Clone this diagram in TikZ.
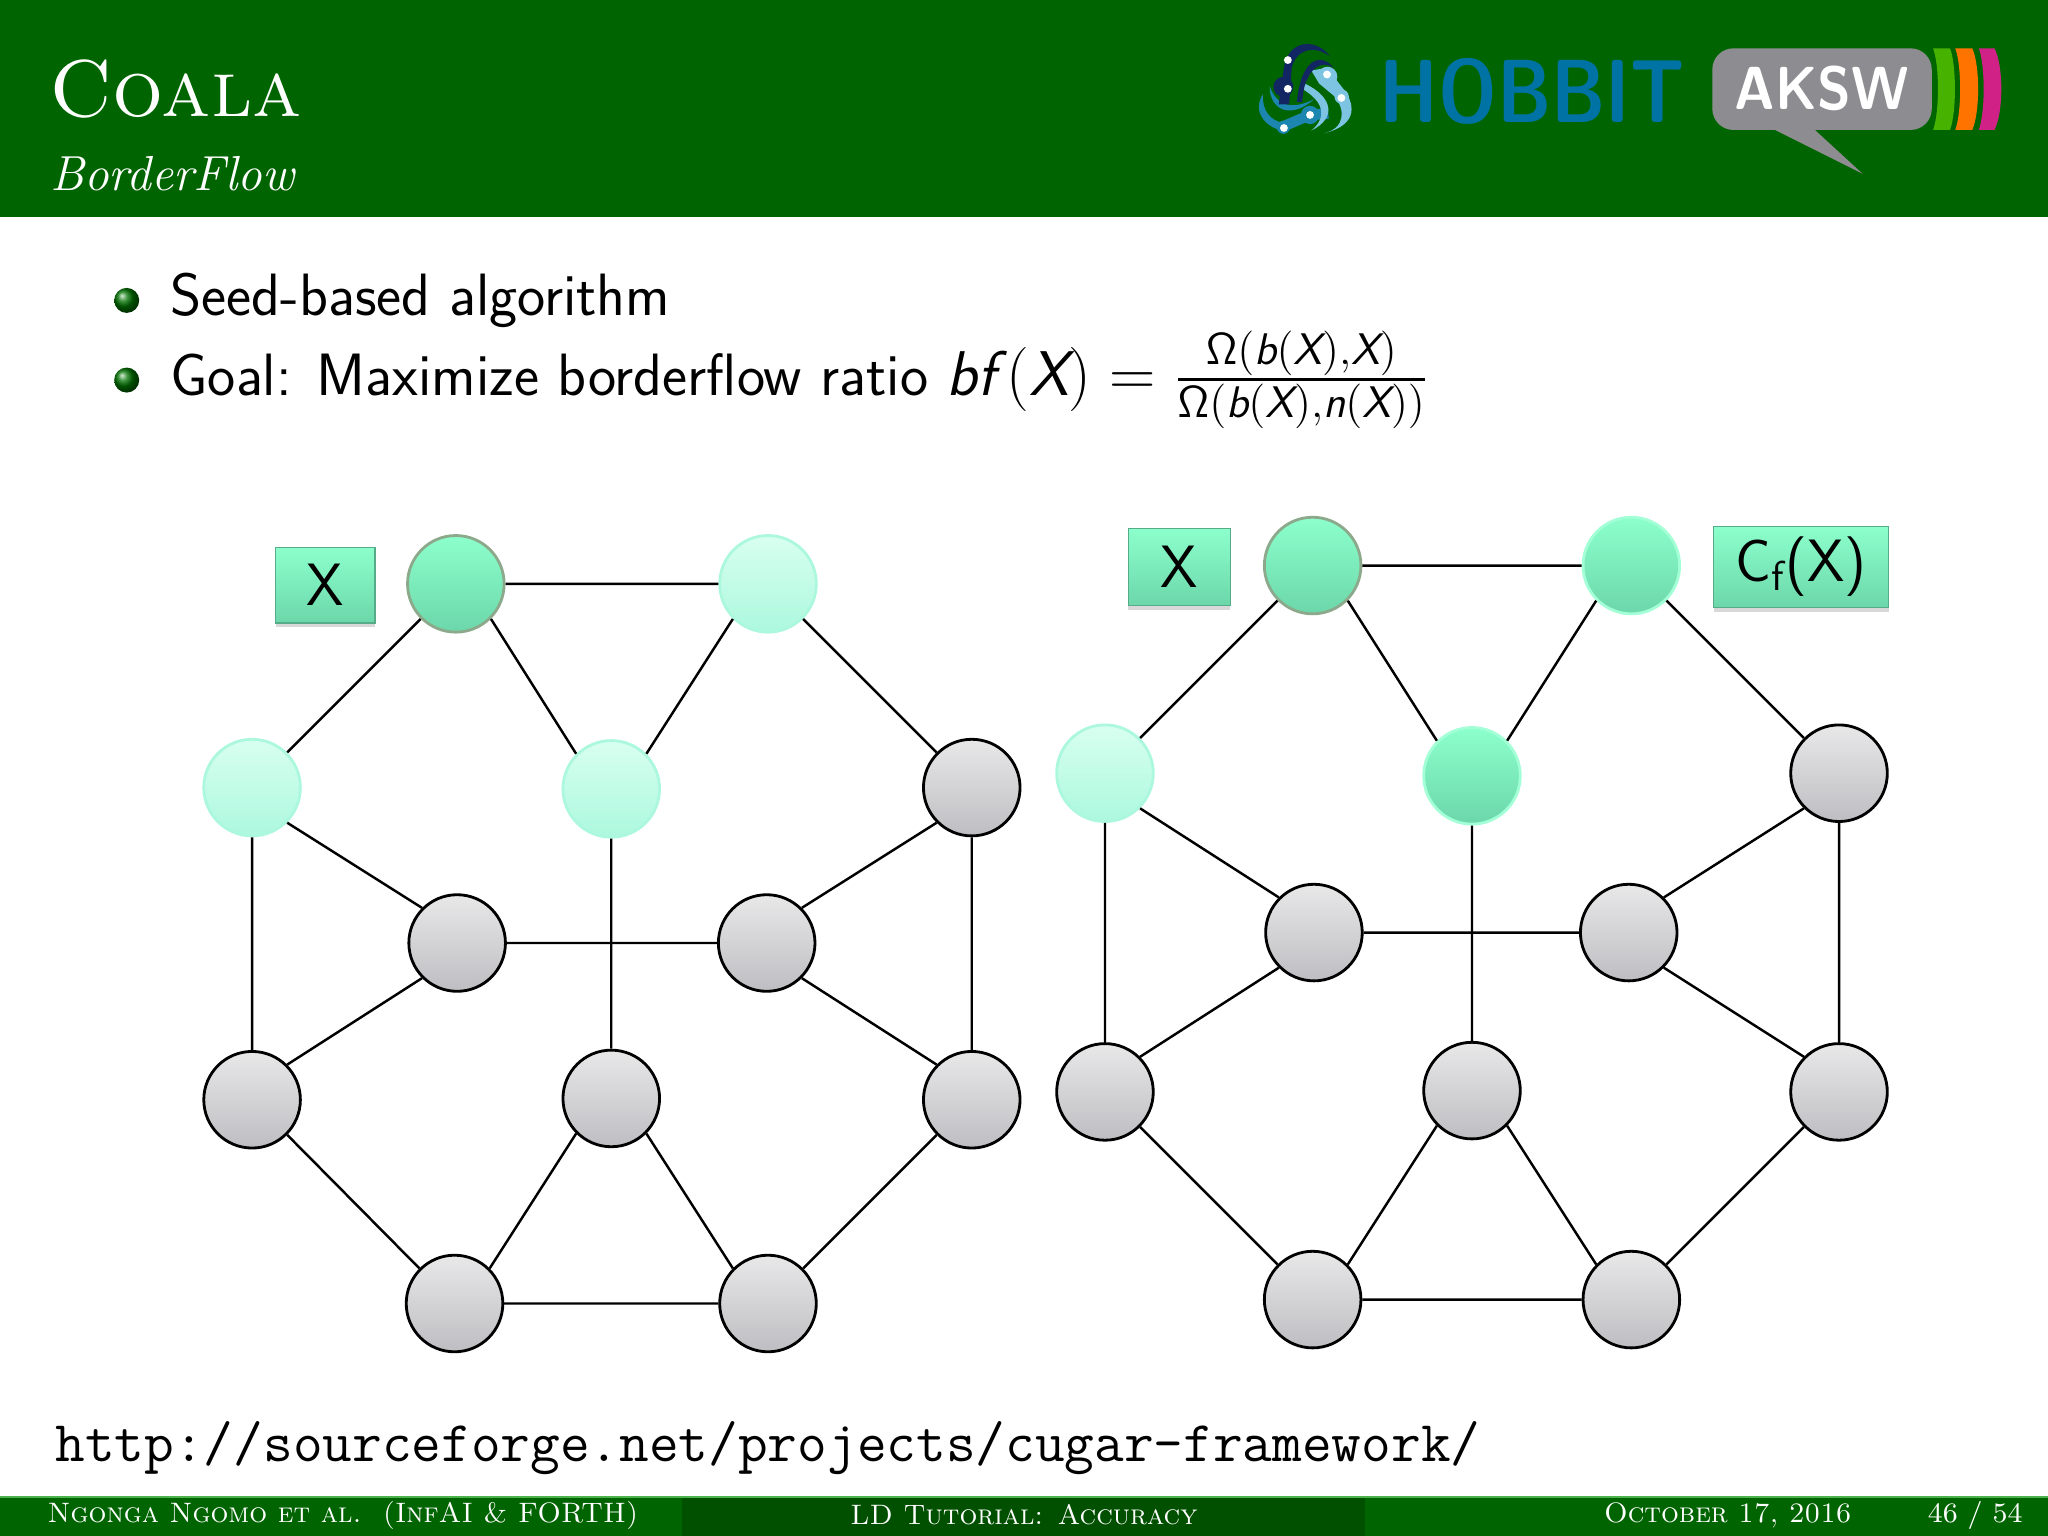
\documentclass[tikz,border=0pt]{standalone}
\usepackage{amsmath}
\usetikzlibrary{shadows}

\definecolor{headgreen}{RGB}{0,100,0}
\definecolor{footdark}{RGB}{0,80,0}
\definecolor{hobbitblue}{RGB}{0,114,163}
\definecolor{hobbitmid}{RGB}{28,134,176}
\definecolor{hobbitnavy}{RGB}{18,38,100}
\definecolor{hobbitlight}{RGB}{125,196,226}
\definecolor{akswgray}{RGB}{140,140,145}
\definecolor{plaintop}{RGB}{232,232,233}
\definecolor{plainbot}{RGB}{190,190,194}
\definecolor{seedtop}{RGB}{140,255,204}
\definecolor{seedbot}{RGB}{108,215,170}
\definecolor{seentop}{RGB}{216,255,240}
\definecolor{seenbot}{RGB}{172,248,222}

\newcommand{\sfOmega}{{\usefont{OT1}{cmss}{m}{n}\char"0A}}
\newcommand{\sfit}[1]{\text{\sffamily\itshape #1}}

\tikzset{
	plain/.style={circle,minimum size=.966cm,inner sep=0pt,draw=black,line width=.8pt,top color=plaintop,bottom color=plainbot},
	seen/.style={circle,minimum size=.966cm,inner sep=0pt,draw=seenbot,line width=.8pt,top color=seentop,bottom color=seenbot},
	seed/.style={circle,minimum size=.966cm,inner sep=0pt,draw=seedtop!80!white,line width=.8pt,top color=seedtop,bottom color=seedbot},
	seedrim/.style={seed,draw=green!25!black!45},
	tag/.style={draw=seedbot!80!black,inner sep=0pt,top color=seedtop,bottom color=seedbot,drop shadow={shadow xshift=0pt,shadow yshift=-1.2pt,opacity=.3},font=\sffamily\fontsize{17}{20}\selectfont},
	edge/.style={line width=.7pt,black},
	foot/.style={white,font=\fontsize{8}{10}\selectfont},
	item/.style={anchor=west,inner sep=0pt,font=\sffamily\fontsize{17}{20}\selectfont},
	bullet/.style={circle,minimum size=.25cm,inner sep=0pt,ball color=green!45!black},
}

\begin{document}
\begin{tikzpicture}[x=.013061cm,y=-.013061cm]

	\useasboundingbox (0,0) rectangle (1568,1176);
	\fill[white] (0,0) rectangle (1568,1176);

%	head line
	\fill[headgreen] (0,0) rectangle (1568,166);
	\node[anchor=west,white,inner sep=0pt,font=\fontsize{22.9}{28}\selectfont] (title) at (37,68) {\textsc{Coala}};
	\node[anchor=west,white,inner sep=0pt,font=\itshape\fontsize{14}{18}\selectfont] (subtitle) at (38,133) {BorderFlow};

%	logos
	\fill[hobbitmid] (967,72) .. controls (958,86) and (970,98) .. (982,100) -- (982,94) .. controls (972,92) and (966,84) .. (967,72) -- cycle;
	\fill[hobbitmid] (972,66) .. controls (972,84) and (988,92) .. (1006,76) .. controls (990,84) and (978,82) .. (972,66) -- cycle;
	\draw[hobbitmid,line width=3pt] (982,97) -- (1003,88) -- (1017,87);
	\fill[hobbitmid] (982.6,97.5) circle[radius=5];
	\fill[hobbitmid] (1003,88) circle[radius=7];
	\fill[hobbitlight] (1004,54) -- (1016,52) -- (1030,70) .. controls (1038,82) and (1038,96) .. (1014,102) .. controls (1030,98) and (1030,84) .. (1022,74) -- (1010,64) -- cycle;
	\fill[hobbitlight] (999,64) .. controls (1020,74) and (1024,90) .. (1004,100) .. controls (1016,90) and (1014,78) .. (997,68) -- cycle;
	\fill[hobbitlight] (1016.3,58.7) circle[radius=7.6];
	\fill[hobbitlight] (1027.2,74) circle[radius=5.5];
	\fill[hobbitnavy] (1018,43) .. controls (1008,29) and (986,30) .. (983,52) -- (979,80) -- (987,80) -- (989,52) .. controls (992,38) and (1006,34) .. (1018,43) -- cycle;
	\fill[hobbitnavy] (1021,52) .. controls (1012,40) and (996,44) .. (993,78) -- (997,78) .. controls (998,56) and (1010,44) .. (1021,52) -- cycle;
	\fill[hobbitnavy] (982.6,66.4) circle[radius=7.6];
	\foreach \dotx/\doty in {986/46,986/68,1016/57,1027/75,1003/88,983/98}
		\fill[white] (\dotx,\doty) circle[radius=3];
	\node[hobbitblue,inner sep=0pt,font=\sffamily\bfseries\fontsize{25.5}{30}\selectfont] (hobbit) at (1173,70) {\scalebox{.826}[1]{HOBBIT}};
	\fill[akswgray,rounded corners=6pt] (1311,37) rectangle (1479,99.5);
	\fill[akswgray] (1358,99) -- (1426,133) -- (1389,99) -- cycle;
	\node[white,inner sep=0pt,font=\sffamily\bfseries\fontsize{17.3}{20}\selectfont] (aksw) at (1395,68) {\scalebox{.91}[1]{AKSW}};
	\fill[green!60!yellow!70!black] (1480,37) .. controls (1485,50) and (1485,86) .. (1480,99.5) -- (1493,99.5) .. controls (1498,86) and (1498,50) .. (1493,37) -- cycle;
	\fill[orange!90!red] (1497,37) .. controls (1502,50) and (1502,86) .. (1497,99.5) -- (1510,99.5) .. controls (1516,86) and (1516,50) .. (1510,37) -- cycle;
	\fill[magenta!85!black] (1515,37) .. controls (1520,50) and (1520,86) .. (1515,99.5) -- (1527,99.5) .. controls (1534,86) and (1534,50) .. (1527,37) -- cycle;

%	the two lines of text
	\node[bullet] (dot1) at (97,230) {};
	\node[bullet] (dot2) at (97,291) {};
	\node[item] (line1) at (130,230) {Seed-based algorithm};
	\node[item] (line2) at (130,291) {Goal: Maximize borderflow ratio \scalebox{1.058}{$\sfit{bf\,}(\sfit{X})=\frac{\text{\sffamily\sfOmega}(\sfit{b}(\sfit{X}),\sfit{X})}{\text{\sffamily\sfOmega}(\sfit{b}(\sfit{X}),\sfit{n}(\sfit{X}))}$}};

%	left graph
	\node[seedrim] (l11) at (349,447) {};
	\node[seen] (l12) at (588,447) {};
	\node[seen] (l21) at (193,603) {};
	\node[seen] (l22) at (468,604) {};
	\node[plain] (l23) at (744,603) {};
	\node[plain] (l31) at (350,722) {};
	\node[plain] (l32) at (587,722) {};
	\node[plain] (l41) at (193,842) {};
	\node[plain] (l42) at (468,841) {};
	\node[plain] (l43) at (744,842) {};
	\node[plain] (l51) at (348,998) {};
	\node[plain] (l52) at (588,998) {};
	\node[tag,minimum width=.993cm,minimum height=.758cm] (lx) at (249,448) {X};

	\draw[edge] (l11)--(l12) (l11.225)--(l21.45) (l11.-45)--(l22.135) (l12.225)--(l22.45) (l12.-45)--(l23.135);
	\draw[edge] (l21.-45)--(l31.135) (l21)--(l41) (l22)--(l42) (l23.225)--(l32.45) (l23)--(l43);
	\draw[edge] (l31)--(l32) (l31.225)--(l41.45) (l32.-45)--(l43.135);
	\draw[edge] (l41.-45)--(l51.135) (l42.225)--(l51.45) (l42.-45)--(l52.135) (l43.225)--(l52.45) (l51)--(l52);

%	right graph
	\node[seedrim] (r11) at (1005,433) {};
	\node[seed] (r12) at (1249,433) {};
	\node[seen] (r21) at (846,592) {};
	\node[seed] (r22) at (1127,594) {};
	\node[plain] (r23) at (1408,592) {};
	\node[plain] (r31) at (1006,714) {};
	\node[plain] (r32) at (1247,714) {};
	\node[plain] (r41) at (846,836) {};
	\node[plain] (r42) at (1127,835) {};
	\node[plain] (r43) at (1408,836) {};
	\node[plain] (r51) at (1005,995) {};
	\node[plain] (r52) at (1249,995) {};
	\node[tag,minimum width=1.019cm,minimum height=.771cm] (rx) at (903,434) {X};
	\node[tag,minimum width=1.75cm,minimum height=.81cm] (rc) at (1379,434) {C\textsubscript{f}(X)};

	\draw[edge] (r11)--(r12) (r11.225)--(r21.45) (r11.-45)--(r22.135) (r12.225)--(r22.45) (r12.-45)--(r23.135);
	\draw[edge] (r21.-45)--(r31.135) (r21)--(r41) (r22)--(r42) (r23.225)--(r32.45) (r23)--(r43);
	\draw[edge] (r31)--(r32) (r31.225)--(r41.45) (r32.-45)--(r43.135);
	\draw[edge] (r41.-45)--(r51.135) (r42.225)--(r51.45) (r42.-45)--(r52.135) (r43.225)--(r52.45) (r51)--(r52);

	\node[anchor=west,inner sep=0pt,font=\ttfamily\fontsize{16.4}{20}\selectfont] (url) at (42,1109) {http://sourceforge.net/projects/cugar-framework/};

%	foot line
	\fill[headgreen] (0,1146) rectangle (1568,1176);
	\fill[footdark] (522,1146) rectangle (1045,1176);
	\draw[green!40!gray,line width=.4pt] (0,1146) -- (1568,1146);
	\node[foot,anchor=west,inner sep=0pt] (authors) at (36,1160) {\textsc{Ngonga Ngomo et al.\ \ (InfAI \& FORTH)}};
	\node[foot,inner sep=0pt] (talk) at (784,1160) {\textsc{LD Tutorial: Accuracy}};
	\node[foot,anchor=east,inner sep=0pt] (date) at (1418,1160) {\textsc{October 17, 2016}};
	\node[foot,anchor=east,inner sep=0pt] (page) at (1549,1160) {46 / 54};

\end{tikzpicture}
\end{document}
